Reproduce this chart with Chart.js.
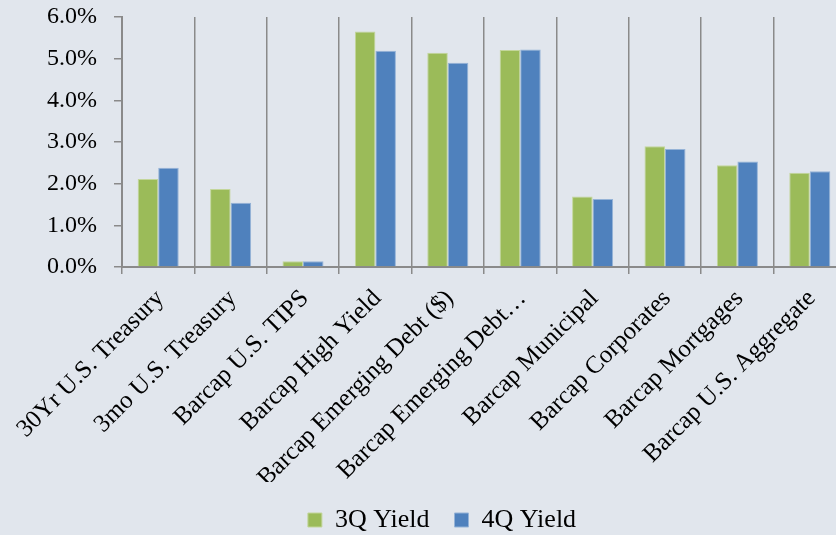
<!DOCTYPE html>
<html>
<head>
<meta charset="utf-8">
<script src="https://cdn.jsdelivr.net/npm/chart.js@4"></script>
<style>
  html, body { margin: 0; padding: 0; background: #e1e6ed; overflow: hidden; }
  #wrap { width: 836px; height: 535px; overflow: hidden; }
</style>
</head>
<body>
<div id="wrap"><canvas id="yieldChart" width="846" height="535"></canvas></div>
<script>
/* --------------- Data --------------------- */
const categories = [
  "30Yr U.S. Treasury",
  "3mo U.S. Treasury",
  "Barcap U.S. TIPS",
  "Barcap High Yield",
  "Barcap Emerging Debt ($)",
  "Barcap Emerging Debt…",
  "Barcap Municipal",
  "Barcap Corporates",
  "Barcap Mortgages",
  "Barcap U.S. Aggregate",
];
const yield3Q = [2.11, 1.87, 0.14, 5.65, 5.14, 5.21, 1.69, 2.90, 2.44, 2.26];
const yield4Q = [2.38, 1.54, 0.14, 5.19, 4.90, 5.22, 1.63, 2.83, 2.53, 2.30];
const yTicks = [0, 1, 2, 3, 4, 5, 6];

const serif = "'Liberation Serif', 'Times New Roman', serif";
const axisGray = "#8a8a8a";

/* --------------- Chart --------------------- */
// canvas is a bit wider than the window so the last category gets cut like in the source
new Chart(document.getElementById("yieldChart"), {
  type: "bar",
  data: {
    labels: categories,
    datasets: [
      {
        label: "3Q Yield",
        data: yield3Q,
        backgroundColor: "#9bbb59",
        borderColor: "#c3d69b",
        borderWidth: 1,
      },
      {
        label: "4Q Yield",
        data: yield4Q,
        backgroundColor: "#4f81bd",
        borderColor: "#95b3d7",
        borderWidth: 1,
      },
    ],
  },
  options: {
    responsive: false,
    animation: false,
    devicePixelRatio: 1,
    layout: { padding: { top: 17, left: 38, right: 0, bottom: -8 } },
    datasets: {
      bar: { categoryPercentage: 0.567, barPercentage: 1.0 },
    },
    plugins: {
      tooltip: { enabled: false },
      legend: {
        position: "bottom",
        labels: {
          color: "#000",
          font: { family: serif, size: 26 },
          boxWidth: 14,
          boxHeight: 14,
          padding: 25,
        },
      },
    },
    scales: {
      x: {
        afterFit: (s) => { s.height = 215; s.paddingLeft = 0; s.paddingRight = 0; },
        grid: {
          offset: true,
          color: axisGray,
          lineWidth: 1.5,
          tickLength: 7,
          tickColor: axisGray,
        },
        border: { color: axisGray, width: 2 },
        ticks: {
          color: "#000",
          font: { family: serif, size: 25 },
          maxRotation: 45,
          minRotation: 45,
          autoSkip: false,
          padding: 10,
          labelOffset: 2,
        },
      },
      y: {
        min: 0,
        max: 6,
        afterFit: (s) => { s.width = 84; s.paddingTop = 0; s.paddingBottom = 0; },
        afterBuildTicks: (s) => { s.ticks = yTicks.map((v) => ({ value: v })); },
        grid: {
          drawOnChartArea: false,
          drawTicks: true,
          tickLength: 8,
          tickColor: axisGray,
          lineWidth: 1.5,
        },
        border: { color: axisGray, width: 2 },
        ticks: {
          color: "#000",
          font: { family: serif, size: 24 },
          padding: 17,
          callback: (v) => Number(v).toFixed(1) + "%",
        },
      },
    },
  },
});
</script>
</body>
</html>
